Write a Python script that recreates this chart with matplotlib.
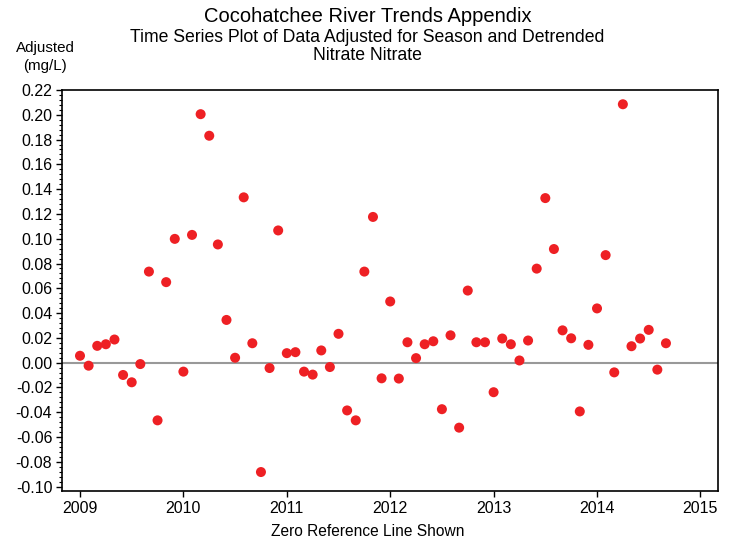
import matplotlib
matplotlib.use("Agg")
import matplotlib.pyplot as plt
from matplotlib.ticker import MultipleLocator, FormatStrFormatter
import numpy as np

plt.rcParams['font.family'] = ['Liberation Sans', 'DejaVu Sans']

start_year = 2009.0
values = [
    0.0056, -0.0024, 0.0136, 0.0149, 0.0187, -0.0099, -0.0158, -0.0011, 0.0735, -0.0465,
    0.0650, 0.0999, -0.0072, 0.1031, 0.2005, 0.1831, 0.0954, 0.0345, 0.0040, 0.1334,
    0.0157, -0.0882, -0.0043, 0.1067, 0.0077, 0.0085, -0.0072, -0.0096, 0.0099, -0.0035,
    0.0233, -0.0385, -0.0465, 0.0735, 0.1176, -0.0126, 0.0494, -0.0128, 0.0165, 0.0037,
    0.0149, 0.0173, -0.0375, 0.0221, -0.0524, 0.0582, 0.0165, 0.0165, -0.0238, 0.0195,
    0.0149, 0.0018, 0.0179, 0.0759, 0.1328, 0.0917, 0.0261, 0.0197, -0.0393, 0.0144,
    0.0438, 0.0868, -0.0078, 0.2085, 0.0133, 0.0195, 0.0265, -0.0056, 0.0157,
]
x_ticks = [2009, 2010, 2011, 2012, 2013, 2014, 2015]
y_ticks = [round(-0.10 + 0.02 * i, 2) for i in range(17)]

dates = start_year + np.arange(len(values)) / 12.0

fig = plt.figure(figsize=(7.35, 5.46), dpi=100)
ax = fig.add_axes([62/735, 1 - 491/546, (718-62)/735, (491-90)/546])

ax.axhline(0, color='#999999', lw=1.5, zorder=1)
ax.scatter(dates, values, s=52, color='#EE2024', edgecolors='none', zorder=3)

ax.set_xlim(2008.826, 2015.17)
ax.set_ylim(-0.1035, 0.22)
ax.set_xticks(x_ticks)
ax.set_xticklabels([str(t) for t in x_ticks])
ax.set_yticks(y_ticks)
ax.yaxis.set_major_formatter(FormatStrFormatter('%.2f'))
ax.yaxis.set_minor_locator(MultipleLocator(0.004))
ax.tick_params(axis='both', labelsize=11.5, direction='out', length=4, width=1, colors='black', pad=3)
ax.tick_params(axis='y', which='minor', length=2, width=0.8)
ax.tick_params(axis='x', which='minor', bottom=False)
for sp in ax.spines.values():
    sp.set_linewidth(1.2)
    sp.set_color('black')

fig.text(0.5, 1 - 17/546, 'Cocohatchee River Trends Appendix', ha='center', va='center', fontsize=14.5)
fig.text(0.5, 1 - 37/546, 'Time Series Plot of Data Adjusted for Season and Detrended', ha='center', va='center', fontsize=12.7)
fig.text(0.5, 1 - 56/546, 'Nitrate Nitrate', ha='center', va='center', fontsize=12.7)
fig.text(45/735, 1 - 48/546, 'Adjusted', ha='center', va='center', fontsize=10.9)
fig.text(45/735, 1 - 66/546, '(mg/L)', ha='center', va='center', fontsize=10.9)
fig.text(0.5, 1 - 532/546, 'Zero Reference Line Shown', ha='center', va='center', fontsize=11.2)

fig.savefig('out.png', dpi=100)
